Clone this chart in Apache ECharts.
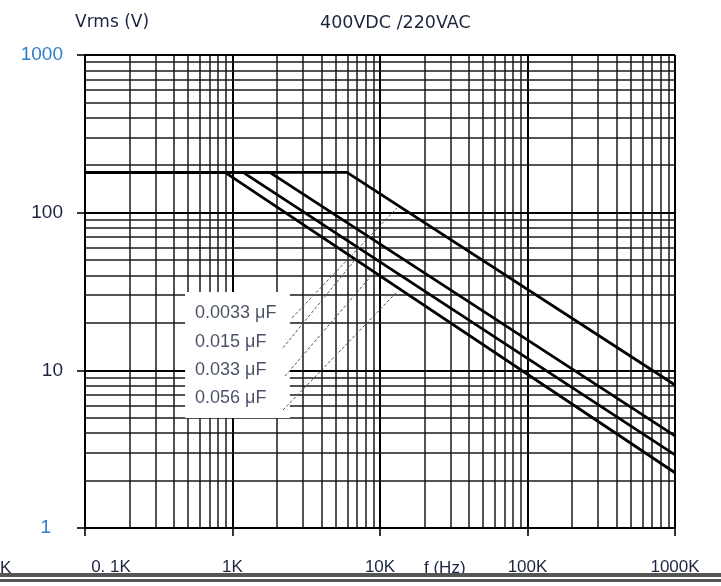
<!DOCTYPE html>
<html><head><meta charset="utf-8">
<script src="https://cdn.jsdelivr.net/npm/echarts@6/dist/echarts.min.js"></script>
<style>html,body{margin:0;padding:0;background:#fff}#c{width:721px;height:586px}</style>
</head><body><div id="c"></div>
<script>
// ---- data ----
const capLabels = ['0.0033 μF', '0.015 μF', '0.033 μF', '0.056 μF'];
const flatVoltage = 180;
const startFreq = 100;
const endFreq = 1000000;
const breakFreq = [5970, 1790, 1180, 890];
const endVoltage = [8.07, 3.84, 2.91, 2.24];
const labelFreq = 557;
const labelVolt = [23.1, 15.1, 10.07, 6.68];
const leaderStart = [[2530, 21.5], [2200, 13.9], [2270, 9.2], [2200, 5.6]];
const leaderEnd = [[13000, 107], [7100, 53], [8830, 40.3], [13000, 31.4]];
const labelBox = [[477, 31.4], [2450, 4.99]];
const xTickLabels = {100: '0. 1K', 1000: '1K', 10000: '10K', 100000: '100K', 1000000: '1000K'};
const yTickLabels = {1: '1', 10: '10', 100: '100', 1000: '1000'};
const xDecades = [100, 1000, 10000, 100000, 1000000];
const yDecades = [1, 10, 100, 1000];
const minorMultipliers = [2, 3, 4, 5, 6, 7, 8, 9];

// ---- chart ----
const chart = echarts.init(document.getElementById('c'), null, {renderer: 'canvas'});
const font = 'Liberation Sans';
const xMinor = [], yMinor = [];
xDecades.slice(0, -1).forEach(d => minorMultipliers.forEach(m => xMinor.push(d * m)));
yDecades.slice(0, -1).forEach(d => minorMultipliers.forEach(m => yMinor.push(d * m)));

const majorStyle = {color: '#000', width: 2, type: 'solid'};
const minorStyle = {color: '#1a1a1a', width: 1.5, type: 'solid'};
const gridLines = []
  .concat(xDecades.map(v => ({xAxis: v, lineStyle: majorStyle})))
  .concat(xMinor.map(v => ({xAxis: v, lineStyle: minorStyle})))
  .concat(yDecades.map(v => ({yAxis: v, lineStyle: majorStyle})))
  .concat(yMinor.map(v => ({yAxis: v, lineStyle: minorStyle})));

const series = [{
  type: 'line', data: [[startFreq, 1]], showSymbol: false, silent: true, z: 1,
  lineStyle: {opacity: 0},
  markLine: {silent: true, z: 2, symbol: ['none', 'none'], label: {show: false},
    animation: false, data: gridLines}
}];

capLabels.forEach((name, i) => {
  series.push({
    name: name, type: 'line', z: 5, showSymbol: false, silent: true,
    lineStyle: {color: '#000', width: 2.8},
    data: [[startFreq, flatVoltage], [breakFreq[i], flatVoltage], [endFreq, endVoltage[i]]]
  });
  series.push({
    type: 'line', z: 11, showSymbol: false, silent: true,
    lineStyle: {color: '#555', width: 1, type: [3, 2]},
    data: [leaderStart[i], leaderEnd[i]]
  });
});

series.push({
  type: 'scatter', z: 12, symbolSize: 0, silent: true,
  data: capLabels.map((n, i) => ({value: [labelFreq, labelVolt[i]], name: n})),
  label: {show: true, position: 'right', distance: 0, formatter: p => p.name,
    color: '#1c2440', fontSize: 18, fontFamily: font},
  markArea: {silent: true, z: 10, itemStyle: {color: '#fff', opacity: 1},
    data: [[{coord: labelBox[0]}, {coord: labelBox[1]}]]}
});

chart.setOption({
  animation: false,
  backgroundColor: '#fff',
  grid: {left: 85, top: 55, width: 590, height: 473},
  xAxis: {
    type: 'log', logBase: 10, min: startFreq, max: endFreq,
    axisLine: {show: true, lineStyle: {color: '#000', width: 2}},
    axisTick: {show: true, length: 8, lineStyle: {color: '#000', width: 1.6}},
    splitLine: {show: false},
    axisLabel: {margin: 31, fontSize: 17, fontFamily: font, color: '#1c2440',
      formatter: v => v === startFreq ? '{f|' + xTickLabels[v] + '}' : (xTickLabels[v] || ''),
      rich: {f: {padding: [0, 0, 0, 52], fontSize: 17, fontFamily: font, color: '#1c2440'}}}
  },
  yAxis: {
    type: 'log', logBase: 10, min: 1, max: 1000,
    axisLine: {show: true, lineStyle: {color: '#000', width: 2}},
    axisTick: {show: true, length: 8, lineStyle: {color: '#000', width: 1.6}},
    splitLine: {show: false},
    axisLabel: {margin: 22, fontSize: 19, fontFamily: font,
      formatter: v => v === 1 ? '{one|1}' : v === 1000 ? '{b|' + yTickLabels[v] + '}' : '{k|' + (yTickLabels[v] || '') + '}',
      rich: {b: {color: '#2f7dc8', fontSize: 19, fontFamily: font},
             one: {color: '#2f7dc8', fontSize: 19, fontFamily: font, padding: [0, 12, 0, 0]},
             k: {color: '#1c2440', fontSize: 19, fontFamily: font}}}
  },
  graphic: [
    {type: 'text', left: 75, top: 14, style: {text: 'Vrms (V)', fill: '#1c2440', font: '17px "DejaVu Sans"'}},
    {type: 'text', left: 320, top: 14, style: {text: '400VDC /220VAC', fill: '#1c2440', font: '17.5px "DejaVu Sans"'}},
    {type: 'text', left: 424, top: 560, style: {text: 'f (Hz)', fill: '#1c2440', font: '17px "Liberation Sans"'}},
    {type: 'text', left: 0, top: 560, style: {text: 'K', fill: '#1c2440', font: '17px "Liberation Sans"'}},
    {type: 'rect', shape: {x: 0, y: 573, width: 721, height: 4}, style: {fill: '#555'}},
    {type: 'rect', shape: {x: 0, y: 579, width: 721, height: 3}, style: {fill: '#555'}}
  ],
  series: series
});
</script></body></html>
